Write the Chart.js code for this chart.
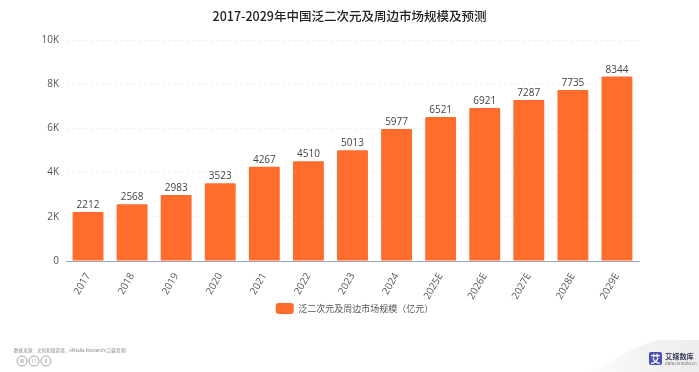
<!DOCTYPE html>
<html><head><meta charset="utf-8">
<script src="https://cdn.jsdelivr.net/npm/chart.js@4"></script>
<style>
html,body{margin:0;padding:0;background:#fff;width:699px;height:372px;overflow:hidden;font-family:"Noto Sans CJK SC","Noto Sans",sans-serif}
#w{position:relative;width:699px;height:372px}
canvas{position:absolute;left:0;top:0}
.a{position:absolute;white-space:nowrap}
</style></head><body>
<div id="w">
<canvas id="c" width="699" height="372"></canvas>
<div class="a" style="left:14px;top:347px;font-size:4.6px;line-height:6px;color:#8a8a8a;filter:blur(.3px)">数据来源：文化和旅游部、iiMedia Research(艾媒咨询)</div>
<svg class="a" style="left:14px;top:355px" width="40" height="12" fill="none" stroke="#a5a5a5" stroke-width="1">
<circle cx="8" cy="6" r="5"/><circle cx="20" cy="6" r="5"/><circle cx="32" cy="6" r="5"/>
<path d="M6 5h4M6 7h4M18 5h1M21 5h1M18 7h1M21 7h1M32 3.5v5"/></svg>
<svg class="a" style="left:580px;top:340px" width="119" height="32"><defs><linearGradient id="g" x1="0" x2="1" y1="0" y2="0"><stop offset="0" stop-color="#fff"/><stop offset=".55" stop-color="#f2f2f2"/><stop offset="1" stop-color="#eeeeee"/></linearGradient></defs><path d="M0 32C30 28 45 8 78 0H119V32Z" fill="url(#g)"/></svg>
<div class="a" style="left:649px;top:352px;width:13px;height:13px;background:#4a4fb5;border-radius:2px;color:#fff;font-size:10px;line-height:13px;text-align:center;font-weight:700">艾</div>
<div class="a" style="left:665px;top:352px;font-size:7.2px;line-height:9px;color:#3d3d5c;font-weight:700">艾媒数库</div>
<div class="a" style="left:665px;top:361px;font-size:4.4px;line-height:5px;color:#777">data.iimedia.cn</div>
</div>
<script>
const titleText = '2017-2029年中国泛二次元及周边市场规模及预测';
const seriesName = '泛二次元及周边市场规模（亿元）';
const categories = ['2017','2018','2019','2020','2021','2022','2023','2024','2025E','2026E','2027E','2028E','2029E'];
const values = [2212,2568,2983,3523,4267,4510,5013,5977,6521,6921,7287,7735,8344];
const yTicks = {0:'0',2000:'2K',4000:'4K',6000:'6K',8000:'8K',10000:'10K'};

const valueLabels = {
  id:'valueLabels',
  afterLayout(ch){ ch.legend.left += 5; ch.legend.right += 5; },
  afterDatasetsDraw(ch){
    const {ctx} = ch, meta = ch.getDatasetMeta(0);
    ctx.save();
    ctx.font = '10px "Open Sans","Noto Sans",sans-serif';
    ctx.fillStyle = '#444';
    ctx.textAlign = 'center';
    ctx.textBaseline = 'alphabetic';
    meta.data.forEach((b,i)=>ctx.fillText(String(values[i]), b.x, b.y-4));
    ctx.restore();
  }
};
new Chart(document.getElementById('c'),{
  type:'bar',
  data:{labels:categories,datasets:[{label:seriesName,data:values,backgroundColor:'#ff6c2c',borderRadius:{topLeft:1,topRight:1},categoryPercentage:0.7,barPercentage:1}]},
  plugins:[valueLabels],
  options:{
    responsive:false,animation:false,
    layout:{padding:{left:0,right:0,top:9,bottom:48}},
    plugins:{
      title:{display:true,text:titleText,color:'#222',font:{family:'"Noto Sans CJK SC"',size:12.5,weight:'500'},padding:{top:0,bottom:16}},
      legend:{position:'bottom',labels:{boxWidth:18,boxHeight:11,useBorderRadius:true,borderRadius:3,color:'#555',font:{family:'"Noto Sans CJK SC"',size:9},padding:0}},
      tooltip:{enabled:false}
    },
    scales:{
      x:{grid:{display:false},border:{color:'#9aa3b5',width:1},afterFit(s){s.height=42;},
        ticks:{color:'#555',maxRotation:60,minRotation:60,padding:2,font:{family:'"Open Sans",sans-serif',size:10}}},
      y:{min:0,max:10000,afterFit(s){s.width=66;},
        grid:{color:'#f1f1f1',drawTicks:false,lineWidth:1},
        border:{display:false,dash:[3,3]},
        afterBuildTicks(s){s.ticks=Object.keys(yTicks).map(v=>({value:+v}));},
        ticks:{color:'#555',padding:7,font:{family:'"Open Sans",sans-serif',size:10},callback:v=>yTicks[v]}},
      r:{position:'right',min:0,max:10000,afterFit(s){s.width=60;},grid:{display:false},border:{display:false},ticks:{display:false}}
    }
  }
});
</script></body></html>
